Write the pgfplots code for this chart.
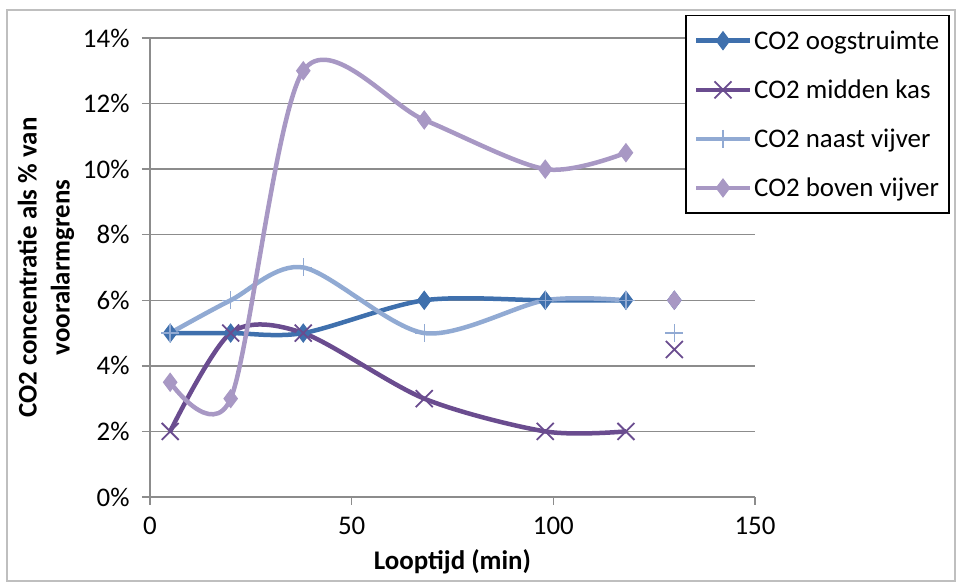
\documentclass[border=0pt]{standalone}
\usepackage{fontspec}
\setmainfont{Carlito}
\usepackage{pgfplots}
\pgfplotsset{compat=1.18}
\definecolor{cA}{HTML}{3F70AD}
\definecolor{cB}{HTML}{6A4C8F}
\definecolor{cC}{HTML}{91AAD3}
\definecolor{cD}{HTML}{A898C4}
\definecolor{gridc}{HTML}{8C8C8C}
\begin{document}
\begin{tikzpicture}[x=1bp,y=1bp]
\useasboundingbox (-150,-86) rectangle (807,497);
\draw[gray!50, line width=1.5bp] (-143,-84) rectangle (805,487);
\begin{axis}[at={(0,0)}, anchor=south west, scale only axis, width=605bp, height=459bp,
  xmin=0, xmax=150, ymin=0, ymax=14,
  xtick={0,50,100,150}, ytick={0,2,...,14},
  yticklabel={\pgfmathprintnumber{\tick}\%},
  /pgf/number format/assume math mode=true,
  axis lines*=left, axis line style={draw=gridc, line width=2bp, -},
  ymajorgrids, grid style={gridc, line width=1.5bp},
  tick align=outside, major tick length=8bp, tick style={gridc, line width=1.5bp},
  ticklabel style={font=\fontsize{27}{31}\selectfont, text=black},
  yticklabel style={xshift=-9bp},
  xticklabel style={yshift=-9bp},
  xlabel={Looptijd (min)},
  ylabel={CO2 concentratie als \% van\\vooralarmgrens},
  xlabel style={font=\bfseries\fontsize{27}{31}\selectfont, at={(axis description cs:0.5,-0.142)}, anchor=center},
  ylabel style={font=\bfseries\fontsize{27}{33}\selectfont, align=center, at={(axis description cs:-0.172,0.5)}, anchor=center},
  legend cell align=left,
  legend style={at={(rel axis cs:0.8843,1.0501)}, anchor=north west, draw=black, line width=1.5bp, fill=white,
    font=\fontsize{27}{31}\selectfont, row sep=25bp, inner xsep=8bp, inner ysep=13bp},
  legend image code/.code={\draw[mark repeat=2,mark phase=2] plot coordinates {(0bp,0bp) (27bp,0bp) (54bp,0bp)};},
  clip=false,
]
\addplot[cA, line width=4.5bp, smooth, tension=0.5, mark=diamond*, mark size=9bp, mark options={fill=cA, line width=1bp}]
  coordinates {(5,5) (20,5) (38,5) (68,6) (98,6) (118,6)};
\addlegendentry{CO2 oogstruimte}
\addplot[cB, line width=4.5bp, smooth, tension=0.5, mark=x, mark size=12bp, mark options={line width=1.8bp}]
  coordinates {(5,2) (20,5) (38,5) (68,3) (98,2) (118,2)};
\addlegendentry{CO2 midden kas}
\addplot[cC, line width=4.5bp, smooth, tension=0.5, mark=+, mark size=9bp, mark options={line width=1.5bp}]
  coordinates {(5,5) (20,6) (38,7) (68,5) (98,6) (118,6)};
\addlegendentry{CO2 naast vijver}
\addplot[cD, line width=4.5bp, smooth, tension=0.5, mark=diamond*, mark size=9bp, mark options={fill=cD, line width=1bp}]
  coordinates {(5,3.5) (20,3) (38,13) (68,11.5) (98,10) (118,10.5)};
\addlegendentry{CO2 boven vijver}
\addplot[forget plot, only marks, cA, mark=diamond*, mark size=9bp, mark options={fill=cA, line width=1bp}]
  coordinates {(130,6)};
\addplot[forget plot, only marks, cB, mark=x, mark size=12bp, mark options={line width=1.8bp}]
  coordinates {(130,4.5)};
\addplot[forget plot, only marks, cC, mark=+, mark size=9bp, mark options={line width=1.5bp}]
  coordinates {(130,5)};
\addplot[forget plot, only marks, cD, mark=diamond*, mark size=9bp, mark options={fill=cD, line width=1bp}]
  coordinates {(130,6)};
\end{axis}
\end{tikzpicture}
\end{document}
